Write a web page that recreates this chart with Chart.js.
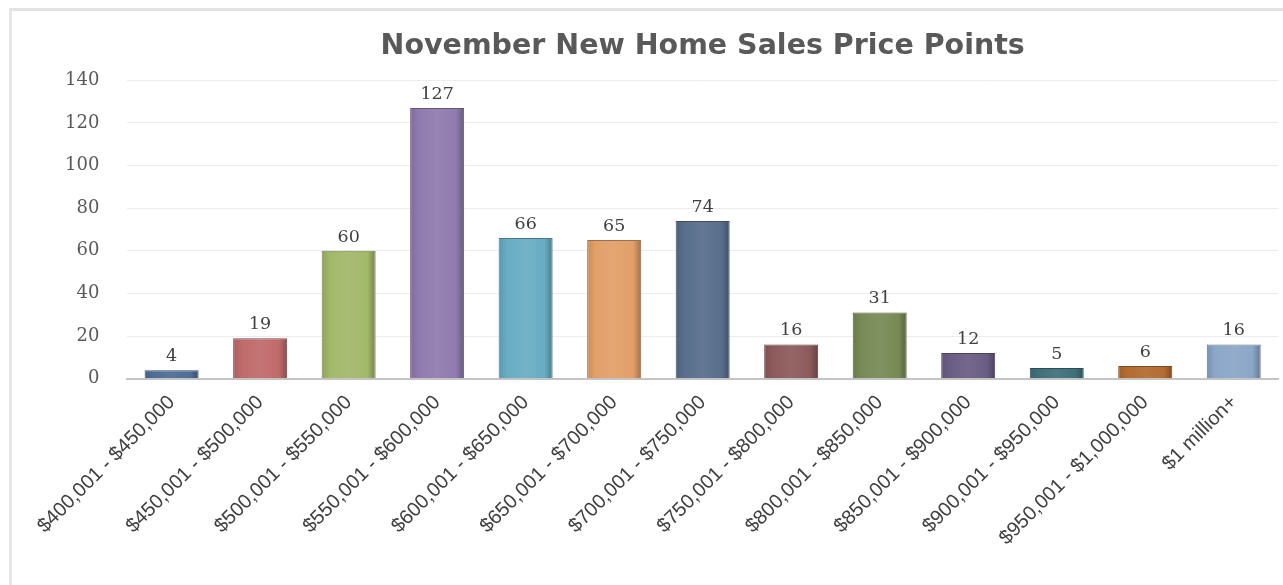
<!DOCTYPE html>
<html>
<head>
<meta charset="utf-8">
<title>November New Home Sales Price Points</title>
<script src="https://cdn.jsdelivr.net/npm/chart.js@4.4.1/dist/chart.umd.min.js"></script>
<style>
  html, body { margin: 0; padding: 0; background: #fff; }
  #frame {
    position: absolute; left: 9px; top: 8px;
    width: 1274px; height: 577px;
    box-sizing: border-box;
    border-top: 3px solid #e2e2e2;
    border-left: 3px solid #e6e6e6;
  }
  #wrap { position: relative; width: 1271px; height: 574px; }
</style>
</head>
<body>
<div id="frame"><div id="wrap"><canvas id="salesChart"></canvas></div></div>
<script>
// price ranges (x axis)
const categories = [
  "$400,001 - $450,000",
  "$450,001 - $500,000",
  "$500,001 - $550,000",
  "$550,001 - $600,000",
  "$600,001 - $650,000",
  "$650,001 - $700,000",
  "$700,001 - $750,000",
  "$750,001 - $800,000",
  "$800,001 - $850,000",
  "$850,001 - $900,000",
  "$900,001 - $950,000",
  "$950,001 - $1,000,000",
  "$1 million+"
];

// homes sold in each range
const salesCounts = [4, 19, 60, 127, 66, 65, 74, 16, 31, 12, 5, 6, 16];

// one colour per bar, like the excel palette
const barColors = [
  "#4e6c96", "#c06a6b", "#a2b86a", "#8f7bae", "#68adc3", "#e29f68", "#586e8c",
  "#8d5a5a", "#778a55", "#6a5d84", "#3f6f7a", "#b36b30", "#8ba6c8"
];

const yMin = 0;
const yMax = 140;
const yStep = 20;

const barPct = 0.61;

// lighten (amt > 0) or darken (amt < 0) a hex colour
function shade(hex, amt) {
  const n = parseInt(hex.slice(1), 16);
  let r = (n >> 16) & 255, g = (n >> 8) & 255, b = n & 255;
  const t = amt < 0 ? 0 : 255;
  const p = Math.abs(amt);
  r = Math.round(r + (t - r) * p);
  g = Math.round(g + (t - g) * p);
  b = Math.round(b + (t - b) * p);
  return `rgb(${r},${g},${b})`;
}

// horizontal gradient so the bars look a bit rounded
function barFill(context) {
  const chart = context.chart;
  const base = barColors[context.dataIndex] || "#888";
  if (!chart.chartArea || context.dataIndex === undefined) return base;
  const xScale = chart.scales.x;
  const x = xScale.getPixelForValue(context.dataIndex);
  const half = (xScale.width / categories.length) * barPct / 2;
  const grad = chart.ctx.createLinearGradient(x - half, 0, x + half, 0);
  grad.addColorStop(0, shade(base, -0.12));
  grad.addColorStop(0.15, base);
  grad.addColorStop(0.5, shade(base, 0.07));
  grad.addColorStop(0.85, base);
  grad.addColorStop(1, shade(base, -0.28));
  return grad;
}

// value above each bar
const valueLabels = {
  id: "valueLabels",
  afterDatasetsDraw(chart) {
    const ctx = chart.ctx;
    const meta = chart.getDatasetMeta(0);
    ctx.save();
    ctx.font = "17.5px 'DejaVu Serif'";
    ctx.fillStyle = "#404040";
    ctx.textAlign = "center";
    ctx.textBaseline = "bottom";
    meta.data.forEach((bar, i) => {
      ctx.fillText(String(salesCounts[i]), bar.x, bar.y - 5);
    });
    ctx.restore();
  }
};

const ctx = document.getElementById("salesChart").getContext("2d");
new Chart(ctx, {
  type: "bar",
  data: {
    labels: categories,
    datasets: [{
      label: "Homes sold",
      data: salesCounts,
      backgroundColor: barFill,
      borderColor: barColors.map(c => shade(c, -0.3)),
      borderWidth: 1,
      barPercentage: barPct,
      categoryPercentage: 1
    }]
  },
  options: {
    responsive: true,
    maintainAspectRatio: false,
    animation: false,
    layout: { padding: { left: 25, right: 5, top: 0, bottom: 23 } },
    plugins: {
      legend: { display: false },
      tooltip: { enabled: false },
      title: {
        display: true,
        fullSize: false,
        text: "November New Home Sales Price Points",
        color: "#595959",
        font: { family: "'DejaVu Sans'", size: 28.5, weight: "bold" },
        padding: { top: 18, bottom: 17 }
      }
    },
    scales: {
      x: {
        grid: { display: false, drawTicks: false },
        border: { display: true, color: "#c4c4c4", width: 2 },
        ticks: {
          color: "#404040",
          font: { family: "'Liberation Sans'", size: 20 },
          minRotation: 45,
          maxRotation: 45,
          padding: 12
        }
      },
      y: {
        min: yMin,
        max: yMax,
        grid: { color: "#ececec", lineWidth: 1, drawTicks: false },
        border: { display: false },
        ticks: {
          stepSize: yStep,
          color: "#595959",
          font: { family: "'DejaVu Serif'", size: 18 },
          padding: 28
        }
      }
    }
  },
  plugins: [valueLabels]
});
</script>
</body>
</html>
